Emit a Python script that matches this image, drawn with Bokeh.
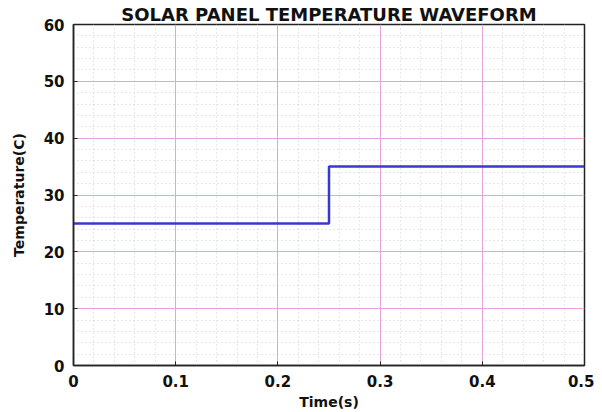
from bokeh.plotting import figure
from bokeh.models import FixedTicker, Range1d
from bokeh.embed import file_html
from bokeh.resources import INLINE

time_s = [0.0, 0.25, 0.25, 0.5]
temperature_c = [25, 25, 35, 35]
x_ticks = [0, 0.1, 0.2, 0.3, 0.4, 0.5]
x_labels = ["0", "0.1", "0.2", "0.3", "0.4", "0.5"]
y_ticks = [0, 10, 20, 30, 40, 50, 60]
y_labels = ["0", "10", "20", "30", "40", "50", "60"]

p = figure(width=594, height=412, output_backend="svg", toolbar_location=None,
           x_range=Range1d(0, 0.5), y_range=Range1d(0, 60),
           title="SOLAR PANEL TEMPERATURE WAVEFORM",
           min_border_left=73, min_border_right=10, min_border_top=24, min_border_bottom=46)

p.title.align = "center"
p.title.text_font = "DejaVu Sans"
p.title.text_font_style = "bold"
p.title.text_font_size = "18px"
p.title.text_color = "#111111"
p.title.standoff = 0

p.outline_line_color = "#222222"
p.outline_line_width = 1.5

for ax in (p.xaxis[0], p.yaxis[0]):
    ax.axis_label_text_font = "DejaVu Sans"
    ax.axis_label_text_font_style = "bold"
    ax.axis_label_text_font_size = "14px"
    ax.axis_label_text_color = "#111111"
    ax.major_label_text_font = "DejaVu Sans"
    ax.major_label_text_font_style = "bold"
    ax.major_label_text_font_size = "15px"
    ax.major_label_text_color = "#111111"
    ax.axis_line_color = "#222222"
    ax.axis_line_width = 1.5
    ax.major_tick_line_color = "#222222"
    ax.major_tick_in = 4
    ax.major_tick_out = 0
    ax.minor_tick_line_color = None

p.xaxis.axis_label = "Time(s)"
p.yaxis.axis_label = "Temperature(C)"
p.xaxis.ticker = FixedTicker(ticks=x_ticks,
                             minor_ticks=[i * 0.02 for i in range(26) if i % 5 != 0])
p.yaxis.ticker = FixedTicker(ticks=y_ticks,
                             minor_ticks=[i * 2 for i in range(31) if i % 5 != 0])
p.xaxis.major_label_overrides = {t: l for t, l in zip(x_ticks, x_labels)}
p.yaxis.major_label_overrides = {t: l for t, l in zip(y_ticks, y_labels)}
p.xaxis.axis_label_standoff = 4
p.yaxis.axis_label_standoff = 14
p.xaxis.major_label_standoff = 5
p.yaxis.major_label_standoff = 5

for g in (p.xgrid[0], p.ygrid[0]):
    g.grid_line_color = "#e8a2da"
    g.grid_line_width = 1
    g.minor_grid_line_color = "#cfcfcf"
    g.minor_grid_line_dash = "1 3"
    g.minor_grid_line_width = 1

p.line(time_s, temperature_c, line_color="#3838cc", line_width=2.5)

open("out.html", "w").write(file_html(p, INLINE))
